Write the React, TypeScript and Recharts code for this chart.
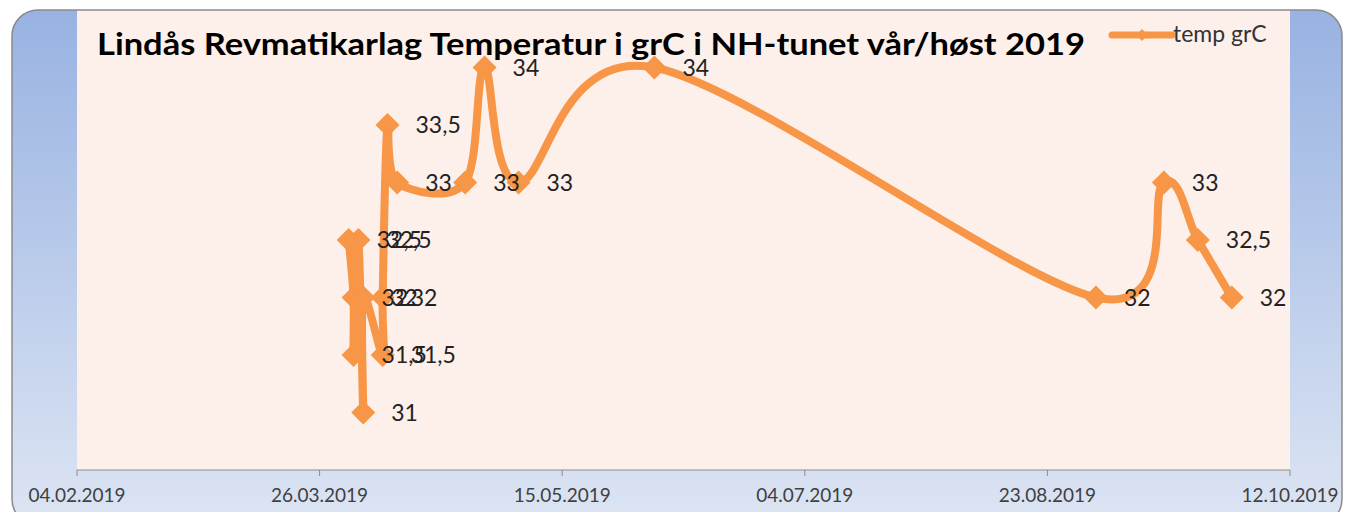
import React from "react";
import { LineChart, Line, XAxis, YAxis, CartesianGrid, LabelList } from "recharts";

const W = 1346;
const H = 512;

// readings in sheet order (several readings share a day in early April)
const readingDates = [
  "01.04.2019", "02.04.2019", "02.04.2019", "03.04.2019", "04.04.2019", "04.04.2019",
  "08.04.2019", "08.04.2019", "09.04.2019", "11.04.2019", "25.04.2019", "29.04.2019",
  "06.05.2019", "03.06.2019", "02.09.2019", "16.09.2019", "23.09.2019", "30.09.2019",
];
const tempValues = [32.5, 32, 31.5, 32.5, 31, 32, 31.5, 32, 33.5, 33, 33, 34, 33, 34, 32, 33, 32.5, 32];
const tickDates = ["04.02.2019", "26.03.2019", "15.05.2019", "04.07.2019", "23.08.2019", "12.10.2019"];
const yDomain = [30.5, 34.5];

const TITLE = "Lindås Revmatikarlag Temperatur i grC i NH-tunet vår/høst 2019";
const SERIES = "temp grC";
const ORANGE = "#F79646";
const FONT = "Lato, 'Open Sans', sans-serif";

const DAY = 86400000;
const toUtc = (s: string) => {
  const [d, m, y] = s.split(".").map(Number);
  return Date.UTC(y, m - 1, d);
};
const origin = toUtc(tickDates[0]);
const toDay = (s: string) => Math.round((toUtc(s) - origin) / DAY);
const fmtDay = (n: number) => {
  const dt = new Date(origin + n * DAY);
  const p = (v: number) => String(v).padStart(2, "0");
  return `${p(dt.getUTCDate())}.${p(dt.getUTCMonth() + 1)}.${dt.getUTCFullYear()}`;
};

const data = readingDates.map((d, i) => ({ day: toDay(d), temp: tempValues[i] }));
const ticks = tickDates.map(toDay);

// Excel-like smoothing: catmull-rom -> bezier, in data order
const excelSmooth = (context: any) => {
  let pts: number[][] = [];
  return {
    areaStart() {},
    areaEnd() {},
    lineStart() {
      pts = [];
    },
    point(x: number, y: number) {
      pts.push([+x, +y]);
    },
    lineEnd() {
      const n = pts.length;
      if (!n) return;
      context.moveTo(pts[0][0], pts[0][1]);
      for (let i = 0; i < n - 1; i++) {
        const p0 = pts[Math.max(0, i - 1)];
        const p1 = pts[i];
        const p2 = pts[i + 1];
        const p3 = pts[Math.min(n - 1, i + 2)];
        context.bezierCurveTo(
          p1[0] + (p2[0] - p0[0]) / 6,
          p1[1] + (p2[1] - p0[1]) / 6,
          p2[0] - (p3[0] - p1[0]) / 6,
          p2[1] - (p3[1] - p1[1]) / 6,
          p2[0],
          p2[1]
        );
      }
    },
  };
};

const Diamond = (props: any) => {
  const { cx, cy, index } = props;
  if (cx == null || cy == null) return null;
  const r = 12;
  return (
    <polygon
      key={`d-${index}`}
      points={`${cx},${cy - r} ${cx + r},${cy} ${cx},${cy + r} ${cx - r},${cy}`}
      fill={ORANGE}
    />
  );
};

const ValueLabel = (props: any) => {
  const { x, y, value, index } = props;
  return (
    <text key={`l-${index}`} x={x + 28} y={y + 8} fontSize={23} fontFamily={FONT} fill="#222">
      {String(value).replace(".", ",")}
    </text>
  );
};

export default function App() {
  return (
    <div style={{ position: "absolute", left: 0, top: 0, width: W, height: H, background: "#fff", overflow: "hidden" }}>
      <svg width={W} height={H} style={{ position: "absolute", left: 0, top: 0 }}>
        <defs>
          <linearGradient id="frameGrad" x1="0" y1="0" x2="0" y2="1">
            <stop offset="0%" stopColor="#98B2E2" />
            <stop offset="100%" stopColor="#DDE5F3" />
          </linearGradient>
        </defs>
        <rect x={12} y={10} width={1330} height={515} rx={26} fill="url(#frameGrad)" />
      </svg>
      <div style={{ position: "absolute", left: 0, top: 0 }}>
        <LineChart width={W} height={H} data={data} margin={{ top: 10, right: 56, bottom: 0, left: 77 }}>
          <CartesianGrid horizontal={false} vertical={false} fill="#FDEFEA" />
          <XAxis
            dataKey="day"
            type="number"
            domain={[ticks[0], ticks[ticks.length - 1]]}
            ticks={ticks}
            tickFormatter={fmtDay}
            height={42}
            stroke="#8c8c8c"
            tickSize={6}
            tickMargin={13}
            tick={{ fill: "#404040", fontSize: 19, fontFamily: FONT }}
            interval={0}
          />
          <YAxis hide type="number" domain={yDomain} />
          <Line
            dataKey="temp"
            name={SERIES}
            type={excelSmooth as any}
            stroke={ORANGE}
            strokeWidth={8}
            strokeLinejoin="round"
            dot={<Diamond />}
            activeDot={false}
            isAnimationActive={false}
          >
            <LabelList dataKey="temp" content={<ValueLabel />} />
          </Line>
        </LineChart>
      </div>
      <svg width={W} height={H} style={{ position: "absolute", left: 0, top: 0, pointerEvents: "none" }}>
        <rect x={12} y={10} width={1330} height={515} rx={26} fill="none" stroke="#8a8a8a" strokeWidth={1.5} />
        <text
          x={97}
          y={55}
          fontSize={31}
          fontWeight={700}
          fontFamily={FONT}
          fill="#000"
          textLength={988}
          lengthAdjust="spacingAndGlyphs"
        >
          {TITLE}
        </text>
        <g transform="translate(1110, 21)">
          <line x1={2} y1={14} x2={62} y2={14} stroke={ORANGE} strokeWidth={7} strokeLinecap="round" />
          <polygon points="32,8 38,14 32,20 26,14" fill={ORANGE} />
          <text x={63} y={21} fontSize={23} fontFamily={FONT} fill="#333">
            {SERIES}
          </text>
        </g>
      </svg>
    </div>
  );
}
